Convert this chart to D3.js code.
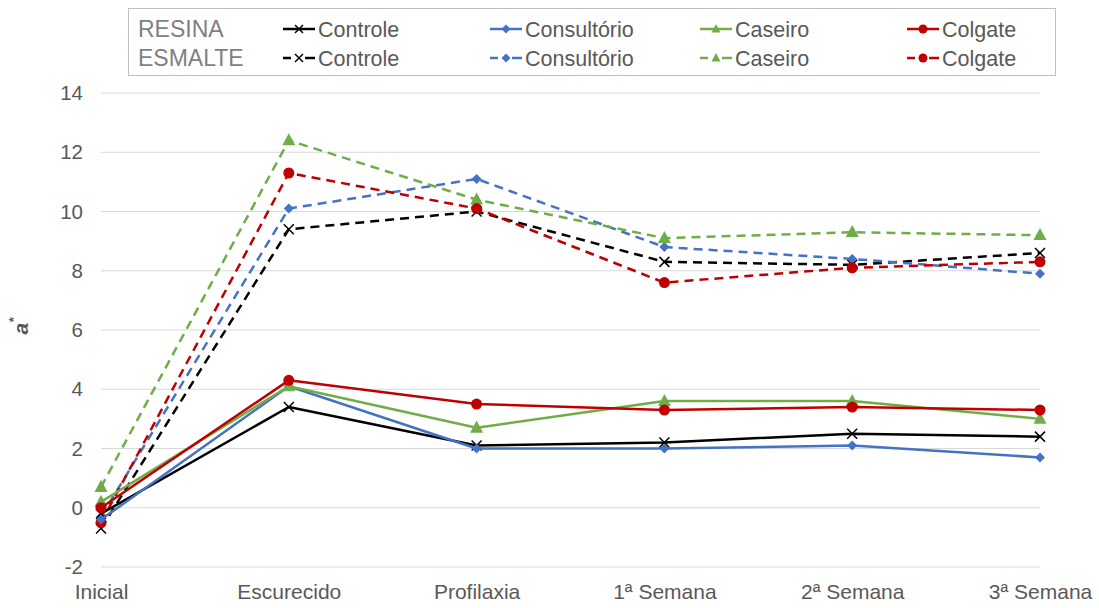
<!DOCTYPE html>
<html>
<head>
<meta charset="utf-8">
<script src="https://cdn.jsdelivr.net/npm/d3@7"></script>
<style>
  body { margin: 0; background: #fff; }
  svg { font-family: "Liberation Sans", Arial, sans-serif; }
</style>
</head>
<body>
<svg id="chart" width="1099" height="608"></svg>
<script>
// Data
const categories = ['Inicial', 'Escurecido', 'Profilaxia', '1ª Semana', '2ª Semana', '3ª Semana'];
const yTicks = [-2, 0, 2, 4, 6, 8, 10, 12, 14];

const resinaControle    = [-0.2, 3.4, 2.1, 2.2, 2.5, 2.4];
const resinaConsultorio = [-0.4, 4.1, 2.0, 2.0, 2.1, 1.7];
const resinaCaseiro     = [0.2, 4.1, 2.7, 3.6, 3.6, 3.0];
const resinaColgate     = [0.0, 4.3, 3.5, 3.3, 3.4, 3.3];

const esmalteControle    = [-0.7, 9.4, 10.0, 8.3, 8.2, 8.6];
const esmalteConsultorio = [-0.3, 10.1, 11.1, 8.8, 8.4, 7.9];
const esmalteCaseiro     = [0.7, 12.4, 10.4, 9.1, 9.3, 9.2];
const esmalteColgate     = [-0.5, 11.3, 10.1, 7.6, 8.1, 8.3];

const groups = ['Controle', 'Consultório', 'Caseiro', 'Colgate'];
const COLORS = { Controle: '#000000', 'Consultório': '#4472c4', Caseiro: '#70ad47', Colgate: '#c00000' };
const MARKERS = { Controle: 'x', 'Consultório': 'diamond', Caseiro: 'triangle', Colgate: 'circle' };

const series = [
  { name: 'Controle', values: esmalteControle, dashed: true },
  { name: 'Consultório', values: esmalteConsultorio, dashed: true },
  { name: 'Caseiro', values: esmalteCaseiro, dashed: true },
  { name: 'Colgate', values: esmalteColgate, dashed: true },
  { name: 'Controle', values: resinaControle, dashed: false },
  { name: 'Consultório', values: resinaConsultorio, dashed: false },
  { name: 'Caseiro', values: resinaCaseiro, dashed: false },
  { name: 'Colgate', values: resinaColgate, dashed: false },
];

const svg = d3.select('#chart');
const plotL = 101, plotR = 1040, plotT = 93, plotB = 567;

const x = d3.scalePoint().domain(categories).range([plotL, plotR]);
const y = d3.scaleLinear().domain([-2, 14]).range([plotB, plotT]);

// grid
svg.append('g').selectAll('line').data(yTicks).join('line')
  .attr('x1', plotL).attr('x2', plotR)
  .attr('y1', d => y(d)).attr('y2', d => y(d))
  .attr('stroke', '#d9d9d9').attr('stroke-width', 1);

// y axis
const yAxis = svg.append('g').attr('transform', `translate(${plotL - 18},0)`)
  .call(d3.axisLeft(y).tickValues(yTicks).tickFormat(d => String(d)).tickSize(0).tickPadding(0));
yAxis.select('.domain').remove();
yAxis.selectAll('text').attr('font-size', 20.5).attr('fill', '#595959')
  .attr('font-family', '"Liberation Sans", Arial, sans-serif');

// x axis
const xAxis = svg.append('g').attr('transform', `translate(0,${plotB + 17})`)
  .call(d3.axisBottom(x).tickSize(0).tickPadding(0));
xAxis.select('.domain').remove();
xAxis.selectAll('text').attr('font-size', 21).attr('fill', '#595959').attr('dy', '0.71em')
  .attr('font-family', '"Liberation Sans", Arial, sans-serif');

// y label
const yl = svg.append('text')
  .attr('transform', `translate(28,${326}) rotate(-90)`)
  .attr('text-anchor', 'middle').attr('fill', '#595959')
  .attr('font-size', 21).attr('font-weight', 'bold').attr('font-style', 'italic');
yl.append('tspan').text('a');
yl.append('tspan').text('*').attr('font-size', 13).attr('dy', -10);

const drawMarker = (g, type, cx, cy, color, s) => {
  if (type === 'x') {
    g.append('path')
      .attr('d', `M${cx - s},${cy - s}L${cx + s},${cy + s}M${cx - s},${cy + s}L${cx + s},${cy - s}`)
      .attr('stroke', color).attr('stroke-width', 1.5).attr('fill', 'none');
  } else if (type === 'diamond') {
    g.append('path')
      .attr('d', `M${cx},${cy - s}L${cx + s},${cy}L${cx},${cy + s}L${cx - s},${cy}Z`)
      .attr('fill', color);
  } else if (type === 'triangle') {
    g.append('path')
      .attr('d', `M${cx},${cy - s * 1.1}L${cx + s},${cy + s * 0.75}L${cx - s},${cy + s * 0.75}Z`)
      .attr('fill', color);
  } else {
    g.append('circle').attr('cx', cx).attr('cy', cy).attr('r', s).attr('fill', color);
  }
};

const markerSize = { x: 5, diamond: 5, triangle: 6.5, circle: 5.5 };

const line = d3.line().x((d, i) => x(categories[i])).y(d => y(d));

series.forEach(s => {
  const color = COLORS[s.name];
  const g = svg.append('g');
  g.append('path').datum(s.values)
    .attr('d', line)
    .attr('fill', 'none').attr('stroke', color).attr('stroke-width', 2.5)
    .attr('stroke-dasharray', s.dashed ? '9,6' : null)
    .attr('stroke-linejoin', 'round');
  s.values.forEach((v, i) => {
    const type = MARKERS[s.name];
    drawMarker(g, type, x(categories[i]), y(v), color, markerSize[type]);
  });
});

// legend
svg.append('rect').attr('x', 128.5).attr('y', 8.5).attr('width', 927).attr('height', 67)
  .attr('fill', '#fff').attr('stroke', '#bfbfbf').attr('stroke-width', 1);

const rowY = [29, 58];
const rowLabels = ['RESINA', 'ESMALTE'];
const colX = [283, 490, 700, 907];
rowLabels.forEach((lab, r) => {
  svg.append('text').attr('x', 138).attr('y', rowY[r]).attr('dy', '0.35em')
    .attr('font-size', 23).attr('fill', '#7f7f7f').text(lab);
  groups.forEach((gname, c) => {
    const color = COLORS[gname];
    const g = svg.append('g');
    const x0 = colX[c], x1 = x0 + 32;
    if (r === 0) {
      g.append('line').attr('x1', x0).attr('x2', x1).attr('y1', rowY[r]).attr('y2', rowY[r])
        .attr('stroke', color).attr('stroke-width', 2.5);
    } else {
      g.append('line').attr('x1', x0).attr('x2', x0 + 8).attr('y1', rowY[r]).attr('y2', rowY[r])
        .attr('stroke', color).attr('stroke-width', 2.5);
      g.append('line').attr('x1', x1 - 10).attr('x2', x1).attr('y1', rowY[r]).attr('y2', rowY[r])
        .attr('stroke', color).attr('stroke-width', 2.5);
    }
    const type = MARKERS[gname];
    drawMarker(g, type, (x0 + x1) / 2, rowY[r], color, type === 'x' ? 4 : 4.5);
    svg.append('text').attr('x', x1 + 3).attr('y', rowY[r]).attr('dy', '0.35em')
      .attr('font-size', 21.5).attr('fill', '#595959').text(gname);
  });
});
</script>
</body>
</html>
